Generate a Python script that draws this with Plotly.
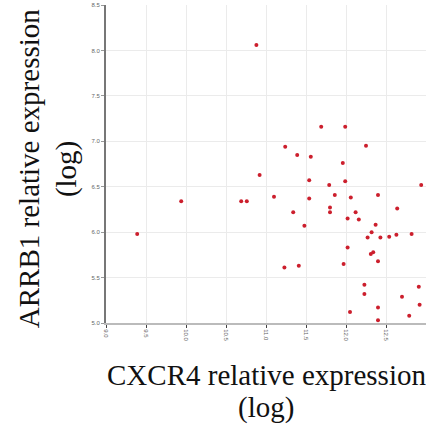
import plotly.graph_objects as go

cxcr4 = [10.88, 11.69, 11.99, 11.24, 11.39, 11.56, 11.96, 12.25,
         9.39, 9.94, 10.69, 10.76, 10.92,
         11.54, 11.79, 11.99, 12.94, 11.10, 11.54, 11.86, 12.06, 12.40, 12.64,
         11.34, 11.80, 11.80, 12.12, 12.02, 12.16, 12.37, 11.48, 12.32, 12.27,
         12.43, 12.54, 12.63, 12.82, 12.02, 12.31, 12.34, 12.40, 11.97, 11.23,
         11.41, 12.23, 12.23, 12.91, 12.70, 12.92, 12.40, 12.05, 12.79, 12.40]
arrb1 = [8.06, 7.16, 7.16, 6.94, 6.85, 6.83, 6.76, 6.95,
         5.98, 6.34, 6.34, 6.34, 6.63,
         6.57, 6.52, 6.56, 6.52, 6.39, 6.37, 6.41, 6.38, 6.41, 6.26,
         6.22, 6.27, 6.22, 6.22, 6.15, 6.14, 6.08, 6.07, 6.00, 5.94,
         5.94, 5.95, 5.97, 5.98, 5.83, 5.76, 5.78, 5.68, 5.65, 5.61,
         5.63, 5.42, 5.32, 5.40, 5.29, 5.20, 5.17, 5.12, 5.08, 5.03]

x_ticks = [9.0, 9.5, 10.0, 10.5, 11.0, 11.5, 12.0, 12.5, 13.0]
y_ticks = [5.0, 5.5, 6.0, 6.5, 7.0, 7.5, 8.0, 8.5]

fig = go.Figure(go.Scatter(
    x=cxcr4, y=arrb1, mode="markers",
    marker=dict(color="#cc1f2d", size=4, line=dict(width=0)),
    showlegend=False, cliponaxis=False,
))

fig.update_layout(
    width=426, height=426,
    margin=dict(l=106, r=0, t=5, b=103, autoexpand=False),
    plot_bgcolor="white", paper_bgcolor="white",
    font=dict(family="Liberation Sans, Arial", color="#555555"),
)
fig.update_xaxes(
    range=[9, 13], tickvals=x_ticks, ticktext=[f"{v:.1f}" for v in x_ticks],
    tickangle=90, tickfont=dict(size=6, color="#666666"), automargin=False,
    showgrid=True, gridcolor="#ebebeb", gridwidth=1,
    showline=True, linecolor="#bbbbbb", linewidth=2,
    ticks="outside", ticklen=3, tickcolor="#444444", tickwidth=1,
    zeroline=False,
)
fig.update_yaxes(
    range=[5, 8.5], tickvals=y_ticks, ticktext=[f"{v:.1f}" for v in y_ticks],
    tickfont=dict(size=6, color="#666666"), automargin=False,
    showgrid=True, gridcolor="#ebebeb", gridwidth=1,
    showline=True, linecolor="#777777", linewidth=2,
    ticks="outside", ticklen=3, tickcolor="#999999", tickwidth=1,
    zeroline=False,
)

title_font = dict(family="Liberation Serif, Times New Roman, serif", size=29, color="#111111")
fig.add_annotation(text="CXCR4 relative expression", xref="paper", yref="paper",
                   x=0.5, y=-0.164, xanchor="center", yanchor="middle",
                   showarrow=False, font=title_font)
fig.add_annotation(text="(log)", xref="paper", yref="paper",
                   x=0.5, y=-0.265, xanchor="center", yanchor="middle",
                   showarrow=False, font=title_font)
fig.add_annotation(text="ARRB1 relative expression", xref="paper", yref="paper",
                   x=-0.2425, y=0.485, xanchor="center", yanchor="middle", textangle=-90,
                   showarrow=False, font=title_font)
fig.add_annotation(text="(log)", xref="paper", yref="paper",
                   x=-0.124, y=0.485, xanchor="center", yanchor="middle", textangle=-90,
                   showarrow=False, font=title_font)

fig.write_html("out.html", config={"displayModeBar": False},
               post_script="document.body.style.margin='0';document.body.style.overflow='hidden';")
